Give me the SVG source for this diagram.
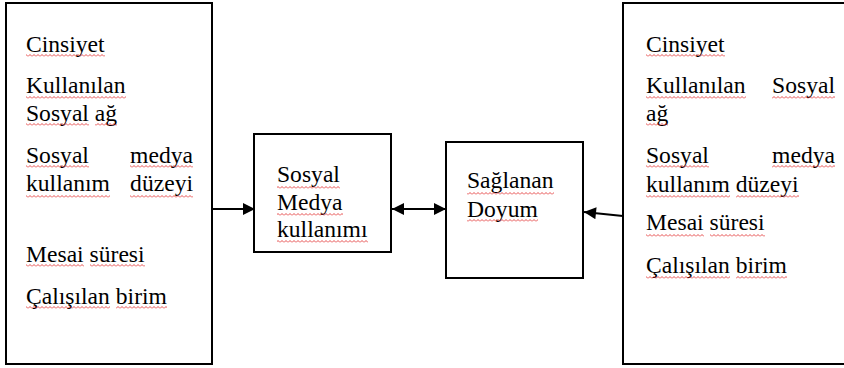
<svg xmlns="http://www.w3.org/2000/svg" width="844" height="368" viewBox="0 0 844 368">
<style>
.box{fill:#fff;stroke:#000;stroke-width:2}
.t{font-family:'Liberation Serif','Times New Roman',Tinos,'DejaVu Serif','Noto Serif',serif;font-size:23.6px;fill:#000}
.e{text-anchor:end}
.ul{fill:url(#wave)}
.conn{stroke:#000;stroke-width:2;fill:none}
</style>
<defs>
<pattern id="wave" width="4" height="3" patternUnits="userSpaceOnUse">
<path d="M0,2.5 L2,0.5 L4,2.5" fill="none" stroke="#e02020" stroke-width="0.8"/>
</pattern>
<marker id="ah" viewBox="0 0 10 10" refX="10" refY="5" markerWidth="6.5" markerHeight="6" orient="auto-start-reverse" markerUnits="strokeWidth">
<path d="M0,0 L10,5 L0,10 Z" fill="#000"/>
</marker>
</defs>
<rect width="844" height="368" fill="#fff"/>

<g id="left-box">
<rect class="box" x="6" y="3" width="206" height="361"/>
<text class="t" x="26" y="52">Cinsiyet</text>
<text class="t" x="26" y="93">Kullanılan</text>
<text class="t" x="26" y="121">Sosyal ağ</text>
<text class="t" x="26" y="163">Sosyal</text>
<text class="t e" x="193" y="163">medya</text>
<text class="t" x="26" y="191">kullanım</text>
<text class="t e" x="193" y="191">düzeyi</text>
<text class="t" x="26" y="262">Mesai süresi</text>
<text class="t" x="26" y="304">Çalışılan birim</text>
<rect class="ul" x="26" y="54" width="79" height="3"/>
<rect class="ul" x="26" y="96" width="100" height="3"/>
<rect class="ul" x="26" y="123" width="63" height="3"/>
<rect class="ul" x="95" y="123" width="22" height="3"/>
<rect class="ul" x="26" y="165" width="63" height="3"/>
<rect class="ul" x="130" y="165" width="63" height="3"/>
<rect class="ul" x="26" y="195" width="84" height="3"/>
<rect class="ul" x="130" y="195" width="63" height="3"/>
<rect class="ul" x="26" y="264" width="58" height="3"/>
<rect class="ul" x="90" y="264" width="55" height="3"/>
<rect class="ul" x="26" y="306" width="84" height="3"/>
<rect class="ul" x="116" y="306" width="51" height="3"/>
</g>

<g id="sosyal-medya-kullanimi">
<rect class="box" x="254" y="134" width="137" height="118"/>
<text class="t" x="277" y="182">Sosyal</text>
<text class="t" x="277" y="210">Medya</text>
<text class="t" x="277" y="237">kullanımı</text>
<rect class="ul" x="277" y="186" width="63" height="3"/>
<rect class="ul" x="277" y="213" width="66" height="3"/>
<rect class="ul" x="277" y="240" width="91" height="3"/>
</g>

<g id="saglanan-doyum">
<rect class="box" x="446" y="142" width="137" height="136"/>
<text class="t" x="467" y="188">Sağlanan</text>
<text class="t" x="467" y="217">Doyum</text>
<rect class="ul" x="467" y="192" width="87" height="3"/>
<rect class="ul" x="467" y="219" width="71" height="3"/>
</g>

<g id="right-box">
<rect class="box" x="623" y="3" width="222" height="361"/>
<text class="t" x="646" y="52">Cinsiyet</text>
<text class="t" x="646" y="93">Kullanılan</text>
<text class="t e" x="835" y="93">Sosyal</text>
<text class="t" x="646" y="121">ağ</text>
<text class="t" x="646" y="163">Sosyal</text>
<text class="t e" x="835" y="163">medya</text>
<text class="t" x="646" y="192">kullanım düzeyi</text>
<text class="t" x="646" y="230">Mesai süresi</text>
<text class="t" x="646" y="273">Çalışılan birim</text>
<rect class="ul" x="646" y="54" width="79" height="3"/>
<rect class="ul" x="646" y="96" width="100" height="3"/>
<rect class="ul" x="772" y="96" width="63" height="3"/>
<rect class="ul" x="646" y="123" width="22" height="3"/>
<rect class="ul" x="646" y="165" width="63" height="3"/>
<rect class="ul" x="772" y="165" width="63" height="3"/>
<rect class="ul" x="646" y="195" width="84" height="3"/>
<rect class="ul" x="736" y="195" width="63" height="3"/>
<rect class="ul" x="646" y="234" width="58" height="3"/>
<rect class="ul" x="710" y="234" width="55" height="3"/>
<rect class="ul" x="646" y="276" width="84" height="3"/>
<rect class="ul" x="736" y="276" width="51" height="3"/>
</g>

<g id="connectors">
<line class="conn" x1="212" y1="209" x2="255" y2="209" marker-end="url(#ah)"/>
<line class="conn" x1="392" y1="209" x2="446" y2="209" marker-start="url(#ah)" marker-end="url(#ah)"/>
<line class="conn" x1="623" y1="216" x2="584" y2="212" marker-end="url(#ah)"/>
</g>
</svg>
